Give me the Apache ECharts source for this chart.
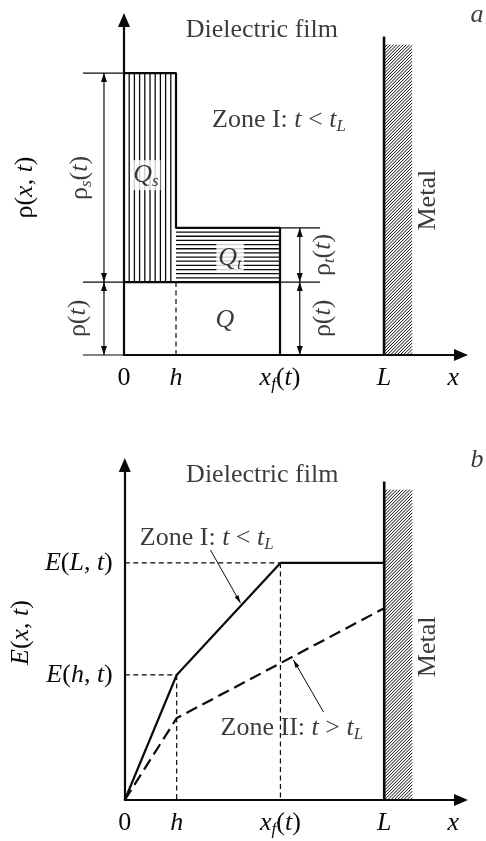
<!DOCTYPE html>
<html lang="en">
<head>
<meta charset="UTF-8" />
<title>Dielectric film: charge and field</title>
<script src="https://cdn.jsdelivr.net/npm/echarts@6.0.0/dist/echarts.min.js"></script>
<style>
  html, body { margin: 0; padding: 0; background: #fff; }
  #chart { width: 486px; height: 841px; }
</style>
</head>
<body>
<div id="chart"></div>
<script>
// x positions (both panels): 0, h, x_f(t), L and the "x" axis label
var xMarks = [0, 1, 3, 5, 6.33];
var xMarkText = ['0', '{i|h}', '{i|x}{s|f}({i|t})', '{i|L}', '{i|x}'];
var hPos = 1, xfPos = 3, LPos = 5;

// panel a: charge density levels  rho(t), rho(t)+rho_t(t), rho(t)+rho_s(t)
var rhoLevels = [2.13, 3.71, 8.23];

// panel b: field profiles
var zoneI = [[0, 0], [1, 3.65], [3, 6.92], [5, 6.92]];
var zoneII = [[0, 0], [1, 2.39], [5, 5.6]];
var eMarks = [3.65, 6.92];
var eMarkText = ['{i|E}({i|h}, {i|t})', '{i|E}({i|L}, {i|t})'];

var ink = '#0a0a0a';
var serif = "'Liberation Serif', 'DejaVu Serif', serif";
var fs = 26;
var rich = {
  i: { fontStyle: 'italic' },
  s: { fontStyle: 'italic', fontSize: 17, lineHeight: 17, verticalAlign: 'bottom' }
};

// axis ends sit under the arrow heads (triangles are centred on the end)
var xMax = 6.48, yMax = 9.78;
var metalW = 0.54, metalTop = 9.3, hatchTop = 9.06;
var r0 = rhoLevels[0], r1 = rhoLevels[1], r2 = rhoLevels[2];

function pickText(vals, texts, v) {
  for (var k = 0; k < vals.length; k++) if (Math.abs(vals[k] - v) < 1e-6) return texts[k];
  return '';
}

function axisPair(idx) {
  var line = { show: true, symbol: ['none', 'triangle'], symbolSize: [12, 14], lineStyle: { color: ink, width: 2.2 } };
  var x = {
    type: 'value', gridIndex: idx, min: 0, max: xMax,
    splitLine: { show: false }, axisTick: { show: false }, axisLine: line,
    axisLabel: {
      customValues: xMarks, margin: 8, color: ink, fontFamily: serif, fontSize: fs, lineHeight: 30, rich: rich,
      formatter: function (v) { return pickText(xMarks, xMarkText, v); }
    }
  };
  var y = {
    type: 'value', gridIndex: idx, min: 0, max: yMax,
    splitLine: { show: false }, axisTick: { show: false }, axisLine: line,
    nameLocation: 'middle', nameRotate: 90, nameGap: 86,
    nameTextStyle: { color: ink, fontFamily: serif, fontSize: fs, rich: rich }
  };
  return [x, y];
}

// hatch fill: 0 vertical, 1 horizontal, 2 diagonal
function renderHatch(params, api) {
  var p0 = api.coord([api.value(0), api.value(1)]);
  var p1 = api.coord([api.value(2), api.value(3)]);
  var kind = api.value(4);
  var l = Math.min(p0[0], p1[0]), r = Math.max(p0[0], p1[0]);
  var t = Math.min(p0[1], p1[1]), b = Math.max(p0[1], p1[1]);
  var W = r - l, H = b - t, kids = [], st = { stroke: ink, lineWidth: 1.3 };
  var i, n;
  if (kind === 0) {
    n = 10;
    for (i = 1; i < n; i++) kids.push({ type: 'line', shape: { x1: l + W * i / n, y1: t, x2: l + W * i / n, y2: b }, style: st });
  } else if (kind === 1) {
    n = 13;
    for (i = 1; i < n; i++) kids.push({ type: 'line', shape: { x1: l, y1: t + H * i / n, x2: r, y2: t + H * i / n }, style: st });
  } else {
    for (var c = -H; c < W; c += 3.2) {
      var t0 = Math.max(0, -c), t1 = Math.min(H, W - c);
      if (t1 <= t0) continue;
      kids.push({ type: 'line', shape: { x1: l + c + t0, y1: b - t0, x2: l + c + t1, y2: b - t1 }, style: { stroke: ink, lineWidth: 1 } });
    }
  }
  return { type: 'group', children: kids };
}

// straight segments with optional arrow heads: [x0, y0, x1, y1, headStart, headEnd]
function segRender(style, headLen, headW) {
  return function (params, api) {
    var a = api.coord([api.value(0), api.value(1)]);
    var b = api.coord([api.value(2), api.value(3)]);
    var kids = [{ type: 'line', shape: { x1: a[0], y1: a[1], x2: b[0], y2: b[1] }, style: style }];
    function head(tip, from) {
      var dx = tip[0] - from[0], dy = tip[1] - from[1], len = Math.sqrt(dx * dx + dy * dy);
      dx /= len; dy /= len;
      var bx = tip[0] - dx * headLen, by = tip[1] - dy * headLen;
      kids.push({ type: 'polygon', shape: { points: [tip, [bx - dy * headW, by + dx * headW], [bx + dy * headW, by - dx * headW]] }, style: { fill: ink } });
    }
    if (api.value(4)) head(a, b);
    if (api.value(5)) head(b, a);
    return { type: 'group', children: kids };
  };
}

function segSeries(idx, data, style, headLen, headW) {
  return { type: 'custom', xAxisIndex: idx, yAxisIndex: idx, silent: true, clip: false, z: 3,
    renderItem: segRender(style, headLen || 9, headW || 3), data: data };
}

function lineSeries(idx, data, width, dash) {
  return { type: 'line', xAxisIndex: idx, yAxisIndex: idx, data: data, symbol: 'none', silent: true, z: 4,
    lineStyle: { color: ink, width: width, type: dash || 'solid' } };
}

function textSeries(idx, notes) {
  return {
    type: 'scatter', xAxisIndex: idx, yAxisIndex: idx, symbolSize: 0, clip: false, silent: true, z: 6,
    label: { show: true, position: 'inside', formatter: '{b}', color: ink, fontFamily: serif, fontSize: fs, lineHeight: 30, rich: rich },
    data: notes.map(function (n) {
      return { name: n[0], value: [n[1], n[2]], label: { rotate: n[3] || 0, backgroundColor: n[4] ? '#fff' : 'transparent', padding: n[4] ? [0, 2] : 0 } };
    })
  };
}

// annotations: text, x, y, rotation, white background
var notesA = [
  ['Dielectric film', 2.65, 9.49],
  ['{i|a}', 6.79, 9.92],
  ['Zone I: {i|t} < {i|t}{s|L}', 2.98, 6.86],
  ['{i|Q}{s|s}', 0.42, 5.25, 0, true],
  ['{i|Q}{s|t}', 2.04, 2.83, 0, true],
  ['{i|Q}', 1.94, 1.02],
  ['ρ{s|s}({i|t})', -0.85, 5.17, 90],
  ['ρ({i|t})', -0.88, 1.07, 90],
  ['ρ{s|t}({i|t})', 3.83, 2.92, 90],
  ['ρ({i|t})', 3.83, 1.07, 90],
  ['Metal', 5.85, 4.52, 90]
];
var notesB = [
  ['Dielectric film', 2.65, 9.49],
  ['{i|b}', 6.79, 9.92],
  ['Zone I: {i|t} < {i|t}{s|L}', 1.58, 7.65],
  ['Zone II: {i|t} > {i|t}{s|L}', 3.22, 2.1],
  ['Metal', 5.85, 4.47, 90]
];

var axA = axisPair(0), axB = axisPair(1);
axA[1].name = 'ρ({i|x}, {i|t})';
axA[1].axisLabel = { show: false };
axB[1].name = '{i|E}({i|x}, {i|t})';
axB[1].axisLabel = {
  customValues: eMarks, margin: 12, color: ink, fontFamily: serif, fontSize: fs, rich: rich,
  formatter: function (v) { return pickText(eMarks, eMarkText, v); }
};

var thin = { stroke: ink, lineWidth: 1.2 };
var dashed = { stroke: ink, lineWidth: 1.2, lineDash: [5, 3.5] };

var option = {
  animation: false,
  backgroundColor: '#fff',
  grid: [
    { left: 124, top: 20, width: 337, height: 335 },
    { left: 124, top: 465, width: 337, height: 335 }
  ],
  xAxis: [axA[0], axB[0]],
  yAxis: [axA[1], axB[1]],
  series: [
    // panel a
    { type: 'custom', xAxisIndex: 0, yAxisIndex: 0, silent: true, z: 2, renderItem: renderHatch,
      data: [[0, r0, hPos, r2, 0], [hPos, r0, xfPos, r1, 1], [LPos, 0, LPos + metalW, hatchTop, 2]] },
    lineSeries(0, [[0, r2], [hPos, r2], [hPos, r1], [xfPos, r1], [xfPos, 0]], 2.2),
    lineSeries(0, [[0, r0], [xfPos, r0]], 2.2),
    lineSeries(0, [[LPos, 0], [LPos, metalTop]], 2.6),
    segSeries(0, [[hPos, 0, hPos, r0, 0, 0]], dashed),
    segSeries(0, [[-0.79, r2, 0, r2, 0, 0], [-0.79, r0, 0, r0, 0, 0], [-0.79, 0, 0, 0, 0, 0],
      [xfPos, r1, 3.77, r1, 0, 0], [xfPos, r0, 3.77, r0, 0, 0]], thin),
    segSeries(0, [[-0.385, r0, -0.385, r2, 1, 1], [-0.385, 0, -0.385, r0, 1, 1],
      [3.38, r0, 3.38, r1, 1, 1], [3.38, 0, 3.38, r0, 1, 1]], thin, 9, 3),
    textSeries(0, notesA),
    // panel b
    { type: 'custom', xAxisIndex: 1, yAxisIndex: 1, silent: true, z: 2, renderItem: renderHatch,
      data: [[LPos, 0, LPos + metalW, hatchTop, 2]] },
    lineSeries(1, zoneI, 2.2),
    lineSeries(1, zoneII, 2.2, [12, 6]),
    lineSeries(1, [[LPos, 0], [LPos, metalTop]], 2.6),
    segSeries(1, [[0, eMarks[1], xfPos, eMarks[1], 0, 0], [xfPos, eMarks[1], xfPos, 0, 0, 0],
      [0, eMarks[0], hPos, eMarks[0], 0, 0], [hPos, eMarks[0], hPos, 0, 0, 0]], dashed),
    segSeries(1, [[1.65, 7.3, 2.23, 5.75, 0, 1], [3.83, 2.57, 3.25, 4.09, 0, 1]], { stroke: ink, lineWidth: 1 }, 8, 2.2),
    textSeries(1, notesB)
  ]
};

var chart = echarts.init(document.getElementById('chart'));
chart.setOption(option);
</script>
</body>
</html>
